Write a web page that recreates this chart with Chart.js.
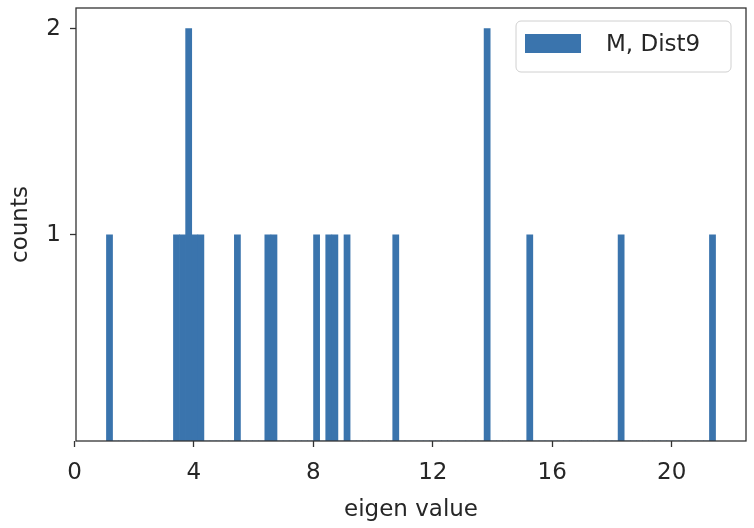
<!DOCTYPE html>
<html>
<head>
<meta charset="utf-8">
<script src="https://cdn.jsdelivr.net/npm/chart.js@4.4.1/dist/chart.umd.min.js"></script>
<style>
  html, body { margin: 0; padding: 0; background: #fff; }
  #wrap { width: 754px; height: 528px; }
</style>
</head>
<body>
<div id="wrap"><canvas id="c" width="754" height="528"></canvas></div>
<script>
// ---- data (histogram of eigen values, 100 bins) ----
const seriesLabel = 'M, Dist9';
const binStart = 1.07;
const binWidth = 0.204;
const counts = [
  1,0,0,0,0,0,0,0,0,0,
  0,1,1,2,1,1,0,0,0,0,
  0,1,0,0,0,0,1,1,0,0,
  0,0,0,0,1,0,1,1,0,1,
  0,0,0,0,0,0,0,1,0,0,
  0,0,0,0,0,0,0,0,0,0,
  0,0,2,0,0,0,0,0,0,1,
  0,0,0,0,0,0,0,0,0,0,
  0,0,0,0,1,0,0,0,0,0,
  0,0,0,0,0,0,0,0,0,1
];
const xTicks = [0, 4, 8, 12, 16, 20];
const yTicks = [1, 2];
const xTitle = 'eigen value';
const yTitle = 'counts';

// ---- build ----
const points = counts.map((c, i) => ({ x: binStart + binWidth * (i + 0.5), y: c }));
const xMin = binStart - binWidth * counts.length * 0.05;
const xMax = binStart + binWidth * counts.length * 1.05;
const yMax = Math.max(...counts) * 1.05;

const barColor = '#3a74ad';
const FONT = 'DejaVu Sans';
const textColor = '#262626';

const frame = {
  id: 'frame',
  afterDraw(chart) {
    const { ctx, chartArea: a } = chart;
    ctx.save();
    ctx.strokeStyle = '#333';
    ctx.lineWidth = 1.3;
    ctx.strokeRect(a.left, a.top, a.right - a.left, a.bottom - a.top);
    // legend box
    const w = 215, h = 51;
    const x0 = a.right - 15 - w, y0 = a.top + 13;
    ctx.beginPath();
    ctx.roundRect(x0, y0, w, h, 5);
    ctx.fillStyle = 'rgba(255,255,255,0.85)';
    ctx.fill();
    ctx.strokeStyle = '#d0d0d0';
    ctx.lineWidth = 1;
    ctx.stroke();
    ctx.fillStyle = barColor;
    ctx.fillRect(x0 + 9, y0 + 13, 56, 19);
    ctx.fillStyle = textColor;
    ctx.font = '23px "' + FONT + '"';
    ctx.textBaseline = 'middle';
    ctx.textAlign = 'left';
    ctx.fillText(chart.data.datasets[0].label, x0 + 90, y0 + 24);
    ctx.restore();
  }
};

new Chart(document.getElementById('c'), {
  type: 'bar',
  data: {
    datasets: [{
      label: seriesLabel,
      data: points,
      backgroundColor: barColor,
      borderWidth: 0,
      barPercentage: 1,
      categoryPercentage: 1
    }]
  },
  options: {
    responsive: false,
    animation: false,
    layout: { padding: { top: 8, right: 8, left: 0, bottom: 0 } },
    plugins: {
      legend: { display: false },
      tooltip: { enabled: false }
    },
    scales: {
      x: {
        type: 'linear',
        offset: false,
        min: xMin,
        max: xMax,
        afterBuildTicks(s) { s.ticks = xTicks.map(v => ({ value: v })); },
        afterFit(s) { s.height = 87; s.paddingLeft = 0; s.paddingRight = 0; },
        grid: { offset: false, drawOnChartArea: false, drawTicks: true, tickLength: 6, color: '#333', tickWidth: 1.3 },
        border: { display: false },
        ticks: { font: { family: FONT, size: 23 }, color: textColor, padding: 12, maxRotation: 0 },
        title: { display: true, text: xTitle, font: { family: FONT, size: 23 }, color: textColor, padding: { top: 0, bottom: 4 } }
      },
      y: {
        type: 'linear',
        min: 0,
        max: yMax,
        afterBuildTicks(s) { s.ticks = yTicks.map(v => ({ value: v })); },
        afterFit(s) { s.width = 76; s.paddingTop = 0; s.paddingBottom = 0; },
        grid: { drawOnChartArea: false, drawTicks: true, tickLength: 6, color: '#333', tickWidth: 1.3 },
        border: { display: false },
        ticks: { font: { family: FONT, size: 23 }, color: textColor, padding: 9 },
        title: { display: true, text: yTitle, font: { family: FONT, size: 23 }, color: textColor, padding: { top: 7, bottom: 8 } }
      }
    }
  },
  plugins: [frame]
});
</script>
</body>
</html>
